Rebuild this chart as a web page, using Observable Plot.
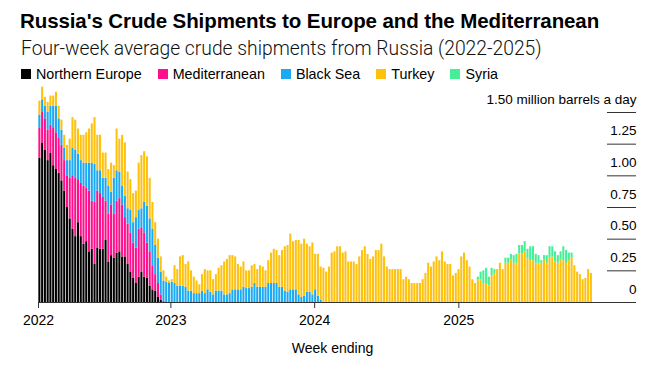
<!DOCTYPE html>
<html>
<head>
<meta charset="utf-8">
<script src="https://cdn.jsdelivr.net/npm/d3@7"></script>
<script src="https://cdn.jsdelivr.net/npm/@observablehq/plot@0.6"></script>
<style>
  html, body { margin: 0; padding: 0; background: #fff; }
  #wrap { position: relative; width: 663px; height: 373px; overflow: hidden; font-family: "Liberation Sans", Arial, sans-serif; color: #000; }
  .title { position: absolute; left: 20px; top: 11px; font-size: 20.5px; line-height: 20px; font-weight: 700; white-space: nowrap; letter-spacing: -0.1px; }
  .sub { position: absolute; left: 21px; top: 39px; font-family: Roboto, "Liberation Sans", sans-serif; font-size: 19.3px; line-height: 19px; font-weight: 300; white-space: nowrap; color: #111; }
  .legend { position: absolute; left: 21px; top: 67px; display: flex; font-size: 14.3px; line-height: 14px; white-space: nowrap; }
  .legend .item { display: flex; align-items: center; margin-right: 16px; }
  .legend .sw { width: 10px; height: 10px; margin-right: 5px; }
  #chart { position: absolute; left: 0; top: 82px; }
</style>
</head>
<body>
<div id="wrap">
  <div class="title">Russia's Crude Shipments to Europe and the Mediterranean</div>
  <div class="sub">Four-week average crude shipments from Russia (2022-2025)</div>
  <div class="legend" id="legend"></div>
  <div id="chart"></div>
</div>
<script>
// ---- Data (million barrels a day, four-week average), one value per week ----
const FIRST_WEEK = "2022-01-30"; // first weekly bar
const SERIES = ["Northern Europe", "Mediterranean", "Black Sea", "Turkey", "Syria"];
const COLORS = ["#000000", "#ff0f8c", "#1aa9f2", "#fdc10e", "#45ef97"];

const northernEurope = [
  1.14,1.26,1.20,1.12,1.18,1.08,1.05,1.02,0.96,0.88,
  0.75,0.66,0.58,0.52,0.63,0.52,0.46,0.48,0.40,0.42,
  0.30,0.43,0.42,0.42,0.49,0.32,0.37,0.35,0.39,0.40,
  0.36,0.36,0.30,0.24,0.19,0.15,0.20,0.24,0.20,0.19,
  0.13,0.10,0.09,0.04,0.02,0,0,0,0,0,
  0,0,0,0,0,0,0,0,0,0, 0,0,0,0,0,0,0,0,0,0,
  0,0,0,0,0,0,0,0,0,0, 0,0,0,0,0,0,0,0,0,0,
  0,0,0,0,0,0,0,0,0,0, 0,0,0,0,0,0,0,0,0,0,
  0,0,0,0,0,0,0,0,0,0, 0,0,0,0,0,0,0,0,0,0,
  0,0,0,0,0,0,0,0,0,0, 0,0,0,0,0,0,0,0,0,0,
  0,0,0,0,0,0,0,0,0,0, 0,0,0,0,0,0,0,0,0,0,
  0,0,0,0,0,0,0,0,0,0, 0,0,0,0,0,0,0,0,0,0,
  0
];
const mediterranean = [
  0.24,0.24,0.25,0.24,0.22,0.30,0.29,0.28,0.28,0.24,
  0.25,0.32,0.42,0.46,0.34,0.42,0.46,0.42,0.48,0.38,
  0.49,0.45,0.44,0.41,0.31,0.38,0.40,0.35,0.41,0.42,
  0.41,0.31,0.32,0.31,0.28,0.28,0.38,0.35,0.35,0.28,
  0.27,0.19,0.13,0.11,0.04,0.01,0,0,0,0,
  0,0,0,0,0,0,0,0,0,0, 0,0,0,0,0,0,0,0,0,0,
  0,0,0,0,0,0,0,0,0,0, 0,0,0,0,0,0,0,0,0,0,
  0,0,0,0,0,0,0,0,0,0, 0,0,0,0,0,0,0,0,0,0,
  0,0,0,0,0,0,0,0,0,0, 0,0,0,0,0,0,0,0,0,0,
  0,0,0,0,0,0,0,0,0,0, 0,0,0,0,0,0,0,0,0,0,
  0,0,0,0,0,0,0,0,0,0, 0,0,0,0,0,0,0,0,0,0,
  0,0,0,0,0,0,0,0,0,0, 0,0,0,0,0,0,0,0,0,0,
  0
];
const blackSea = [
  0.10,0.10,0.10,0.14,0.15,0.17,0.21,0.15,0.12,0.10,
  0.12,0.14,0.22,0.22,0.20,0.18,0.18,0.20,0.22,0.30,
  0.30,0.16,0.18,0.15,0.18,0.22,0.10,0.28,0.24,0.21,
  0.15,0.17,0.12,0.18,0.16,0.24,0.15,0.15,0.24,0.29,
  0.26,0.29,0.23,0.20,0.18,0.16,0.16,0.15,0.16,0.15,
  0.13,0.13,0.13,0.12,0.09,0.09,0.07,0.07,0.07,0.09,
  0.07,0.10,0.08,0.06,0.09,0.09,0.09,0.06,0.06,0.07,
  0.10,0.10,0.10,0.10,0.12,0.11,0.11,0.12,0.15,0.12,
  0.12,0.12,0.12,0.15,0.15,0.15,0.15,0.12,0.12,0.09,
  0.08,0.10,0.10,0.10,0.06,0.04,0.05,0.08,0.08,0.06,
  0.10,0.05,0.02,0,0,0,0,0,0,0,
  0,0,0,0,0,0,0,0,0,0, 0,0,0,0,0,0,0,0,0,0,
  0,0,0,0,0,0,0,0,0,0, 0,0,0,0,0,0,0,0,0,0,
  0,0,0,0,0,0,0,0,0,0, 0,0,0,0,0,0,0,0,0,0,
  0,0,0,0,0,0,0,0,0,0, 0,0,0,0,0,0,0,0,0,0,
  0
];
const turkey = [
  0.11,0.10,0.07,0.08,0.08,0.08,0.11,0.10,0.08,0.10,
  0.12,0.17,0.24,0.24,0.20,0.20,0.22,0.24,0.27,0.31,
  0.37,0.28,0.28,0.20,0.20,0.13,0.23,0.10,0.33,0.26,
  0.40,0.42,0.29,0.24,0.23,0.21,0.37,0.42,0.40,0.39,
  0.32,0.21,0.18,0.15,0.12,0.08,0.04,0.02,0.02,0.14,
  0.13,0.23,0.24,0.18,0.23,0.16,0.13,0.10,0.07,0.13,
  0.19,0.15,0.17,0.12,0.13,0.18,0.20,0.26,0.28,0.30,
  0.27,0.26,0.20,0.18,0.20,0.14,0.14,0.17,0.15,0.14,
  0.17,0.16,0.13,0.18,0.24,0.27,0.26,0.25,0.29,0.35,
  0.37,0.44,0.38,0.39,0.43,0.42,0.45,0.38,0.36,0.41,
  0.28,0.33,0.26,0.27,0.24,0.28,0.39,0.40,0.44,0.44,
  0.39,0.40,0.32,0.32,0.32,0.30,0.36,0.41,0.44,0.38,
  0.34,0.36,0.41,0.41,0.46,0.36,0.28,0.26,0.26,0.26,
  0.26,0.26,0.18,0.20,0.18,0.15,0.15,0.15,0.15,0.18,
  0.23,0.31,0.28,0.32,0.36,0.33,0.40,0.32,0.30,0.30,
  0.21,0.23,0.26,0.36,0.39,0.33,0.28,0.18,0.15,0.18,
  0.18,0.15,0.15,0.13,0.21,0.23,0.26,0.31,0.26,0.31,
  0.31,0.34,0.31,0.31,0.385,0.385,0.40,0.345,0.33,0.33,
  0.31,0.31,0.31,0.34,0.31,0.35,0.36,0.32,0.31,0.34,
  0.33,0.31,0.33,0.35,0.29,0.24,0.22,0.18,0.19,0.26,
  0.23
];
const syria = [
  0,0,0,0,0,0,0,0,0,0, 0,0,0,0,0,0,0,0,0,0,
  0,0,0,0,0,0,0,0,0,0, 0,0,0,0,0,0,0,0,0,0,
  0,0,0,0,0,0,0,0,0,0, 0,0,0,0,0,0,0,0,0,0,
  0,0,0,0,0,0,0,0,0,0, 0,0,0,0,0,0,0,0,0,0,
  0,0,0,0,0,0,0,0,0,0, 0,0,0,0,0,0,0,0,0,0,
  0,0,0,0,0,0,0,0,0,0, 0,0,0,0,0,0,0,0,0,0,
  0,0,0,0,0,0,0,0,0,0, 0,0,0,0,0,0,0,0,0,0,
  0,0,0,0,0,0,0,0,0,0, 0,0,0,0,0,0,0,0,0,0.02,
  0.06,0.10,0.12,0.07,0.06,0.03,0,0,0,0.04,
  0.04,0.04,0.06,0.07,0.065,0.065,0.08,0.075,0.11,0.11,
  0.07,0.06,0.02,0.03,0.06,0.09,0.08,0.08,0.06,0.06,
  0.11,0.10,0.06,0.04,0,0,0,0,0,0,
  0
];
const Y_TICKS = [0, 0.25, 0.5, 0.75, 1.0, 1.25, 1.5];
const X_TICK_DATES = [FIRST_WEEK, "2023-01-01", "2024-01-01", "2025-01-01"];
const X_DOMAIN_END = "2026-03-28";
const UNIT_LABEL = " million barrels a day";
const X_LABEL = "Week ending";

// ---- Build tidy table ----
const seriesValues = [northernEurope, mediterranean, blackSea, turkey, syria];
const start = new Date(FIRST_WEEK + "T00:00:00Z");
const data = [];
seriesValues.forEach((vals, s) => {
  vals.forEach((v, i) => {
    data.push({date: d3.utcWeek.offset(start, i), series: SERIES[s], value: v});
  });
});

// ---- Legend ----
const legend = document.getElementById("legend");
SERIES.forEach((name, i) => {
  const item = document.createElement("div");
  item.className = "item";
  const sw = document.createElement("span");
  sw.className = "sw";
  sw.style.background = COLORS[i];
  const t = document.createElement("span");
  t.textContent = name;
  item.appendChild(sw); item.appendChild(t);
  legend.appendChild(item);
});

const fmt = d => d === 0 ? "0" : d === 1.5 ? d.toFixed(2) + UNIT_LABEL : d.toFixed(2);

const chart = Plot.plot({
  width: 663,
  height: 291,
  marginLeft: 38,
  marginRight: 27,
  marginTop: 30,
  marginBottom: 71,
  style: {fontFamily: "'Liberation Sans', Arial, sans-serif", fontSize: "13px", color: "#000", background: "transparent"},
  x: {type: "utc", domain: [start, new Date(X_DOMAIN_END + "T00:00:00Z")], axis: null},
  y: {domain: [0, 1.5], axis: null},
  color: {domain: SERIES, range: COLORS},
  marks: [
    Plot.rectY(data, {x: "date", interval: d3.utcWeek, y: "value", fill: "series", order: SERIES, insetLeft: 0.35, insetRight: 0.35}),
    Plot.tickY(Y_TICKS.filter(d => d > 0), {y: d => d, stroke: "#333", strokeWidth: 1, insetLeft: 569}),
    Plot.ruleY([0], {stroke: "#333", strokeWidth: 1}),
    Plot.text(Y_TICKS, {y: d => d, text: fmt, frameAnchor: "right", textAnchor: "end", lineAnchor: "middle", dy: -13, fontSize: 13.5, fill: "#000"}),
    Plot.axisX({ticks: X_TICK_DATES.map(d => new Date(d + "T00:00:00Z")), tickFormat: d => String(d.getUTCFullYear()), tickSize: 6, tickPadding: 7, fontSize: 14, stroke: "#333", label: null}),
    Plot.text([X_LABEL], {frameAnchor: "bottom", dy: 50, dx: -5, fontSize: 14, fill: "#000"})
  ]
});
document.getElementById("chart").appendChild(chart);
</script>
</body>
</html>
